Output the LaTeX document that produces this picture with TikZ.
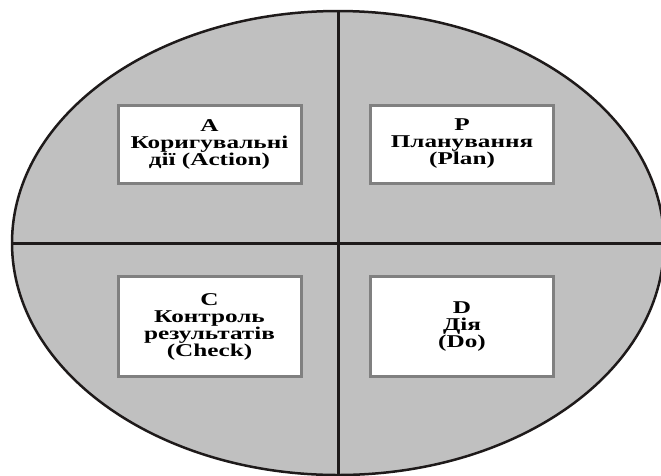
\documentclass[tikz,border=0pt]{standalone}
\usepackage{fontspec}
\newfontfamily\pdcafont[FakeStretch=1.4]{Liberation Serif}
\usetikzlibrary{positioning}
\definecolor{ovalgrey}{RGB}{192,192,192}
\definecolor{boxrim}{RGB}{128,128,128}
\definecolor{inkdark}{RGB}{30,26,26}

\begin{document}
\begin{tikzpicture}[x=1pt, y=-1pt, node distance=252.5pt, auto,
    stage/.style={draw=boxrim, line width=3pt, fill=white, minimum width=183pt,
        align=center, inner sep=2pt, font=\pdcafont\bfseries\fontsize{18}{17}\selectfont}]
    \useasboundingbox (0,0) rectangle (661,475);
    \clip (0,0) rectangle (661,475);

    \filldraw[fill=ovalgrey, draw=inkdark, line width=2.5pt] (338,243) ellipse [x radius=326pt, y radius=232pt];

    \coordinate (west) at (12,243);
    \coordinate (east) at (661,243);
    \coordinate (north) at (338,11);
    \coordinate (south) at (338,475);
    \draw[inkdark, line width=3pt] (west) -- (east);
    \draw[inkdark, line width=3pt] (north) -- (south);

    \node[stage, minimum height=78pt] (act) at (209.5,144) {A\\Коригувальні\\дії (Action)};
    \node[stage, minimum height=78pt, right of=act] (plan) {P\\Планування\\(Plan)};
    \node[stage, minimum height=100pt, node distance=182.5pt, below of=act] (check) {C\\Контроль\\результатів\\(Check)};
    \node[stage, minimum height=100pt, right of=check] (do) {D\\Дія\\(Do)};
\end{tikzpicture}
\end{document}
